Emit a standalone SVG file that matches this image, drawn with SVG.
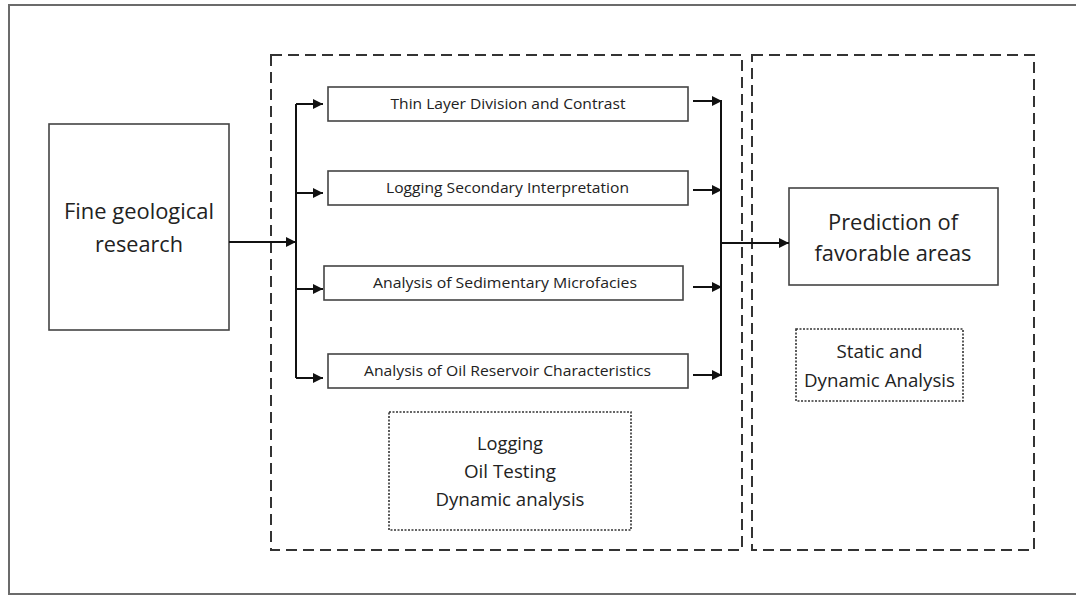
<svg xmlns="http://www.w3.org/2000/svg" width="1076" height="596" viewBox="0 0 1076 596">
<style>
.frame{fill:none;stroke:#6b6b6b;stroke-width:2}
.box{fill:#fff;stroke:#444;stroke-width:1.6}
.dash{fill:none;stroke:#333;stroke-width:2;stroke-dasharray:11 6}
.dot{fill:none;stroke:#333;stroke-width:1.6;stroke-dasharray:2 1.5}
.con{fill:none;stroke:#111;stroke-width:2}
text{font-family:"Open Sans","Noto Sans","Liberation Sans",sans-serif;fill:#222;text-anchor:middle}
.s{font-size:14.5px}
.m{font-size:18.5px}
.l{font-size:22px}
</style>
<defs>
<marker id="ah" viewBox="0 0 10 10" refX="10" refY="5" markerWidth="5" markerHeight="5" markerUnits="strokeWidth" orient="auto">
<path d="M0,0 L10,5 L0,10 Z" fill="#111"/>
</marker>
</defs>
<rect width="1076" height="596" fill="#fff"/>
<rect class="frame" x="9" y="5" width="1080" height="589"/>
<g id="group-left"><rect class="dash" x="271" y="55" width="471" height="495"/></g>
<g id="group-right"><rect class="dash" x="752" y="55" width="282" height="495"/></g>
<g id="n-fine">
<rect class="box" x="49" y="124" width="180" height="206"/>
<text class="l" x="139" y="219" textLength="150" lengthAdjust="spacingAndGlyphs">Fine geological</text>
<text class="l" x="139" y="252" textLength="88" lengthAdjust="spacingAndGlyphs">research</text>
</g>
<g id="n-thin">
<rect class="box" x="328" y="87" width="360" height="34"/>
<text class="s" x="508" y="109" textLength="235" lengthAdjust="spacingAndGlyphs">Thin Layer Division and Contrast</text>
</g>
<g id="n-logging2">
<rect class="box" x="328" y="171" width="360" height="34"/>
<text class="s" x="507.5" y="193" textLength="243" lengthAdjust="spacingAndGlyphs">Logging Secondary Interpretation</text>
</g>
<g id="n-sed">
<rect class="box" x="324" y="266" width="359" height="34"/>
<text class="s" x="505" y="288" textLength="264" lengthAdjust="spacingAndGlyphs">Analysis of Sedimentary Microfacies</text>
</g>
<g id="n-oil">
<rect class="box" x="328" y="354" width="360" height="34"/>
<text class="s" x="507.5" y="376" textLength="287" lengthAdjust="spacingAndGlyphs">Analysis of Oil Reservoir Characteristics</text>
</g>
<g id="n-logging">
<rect class="dot" x="389" y="412" width="242" height="118"/>
<text class="m" x="510" y="450" textLength="66" lengthAdjust="spacingAndGlyphs">Logging</text>
<text class="m" x="510" y="478" textLength="92" lengthAdjust="spacingAndGlyphs">Oil Testing</text>
<text class="m" x="510" y="506" textLength="149" lengthAdjust="spacingAndGlyphs">Dynamic analysis</text>
</g>
<g id="n-pred">
<rect class="box" x="789" y="188" width="209" height="97"/>
<text class="l" x="893" y="230" textLength="130" lengthAdjust="spacingAndGlyphs">Prediction of</text>
<text class="l" x="893" y="261" textLength="157" lengthAdjust="spacingAndGlyphs">favorable areas</text>
</g>
<g id="n-static">
<rect class="dot" x="796" y="329" width="167" height="72"/>
<text class="m" x="879.5" y="358" textLength="86" lengthAdjust="spacingAndGlyphs">Static and</text>
<text class="m" x="879.5" y="387" textLength="151" lengthAdjust="spacingAndGlyphs">Dynamic Analysis</text>
</g>
<g id="connectors">
<path class="con" d="M229,242 H296" marker-end="url(#ah)"/>
<path class="con" d="M296,104 V378"/>
<path class="con" d="M296,104 H323" marker-end="url(#ah)"/>
<path class="con" d="M296,193 H323" marker-end="url(#ah)"/>
<path class="con" d="M296,289 H323" marker-end="url(#ah)"/>
<path class="con" d="M296,378 H323" marker-end="url(#ah)"/>
<path class="con" d="M693,101 H722" marker-end="url(#ah)"/>
<path class="con" d="M693,190 H722" marker-end="url(#ah)"/>
<path class="con" d="M693,287 H722" marker-end="url(#ah)"/>
<path class="con" d="M693,375 H722" marker-end="url(#ah)"/>
<path class="con" d="M721,101 V375"/>
<path class="con" d="M721,243 H789" marker-end="url(#ah)"/>
</g>
</svg>
